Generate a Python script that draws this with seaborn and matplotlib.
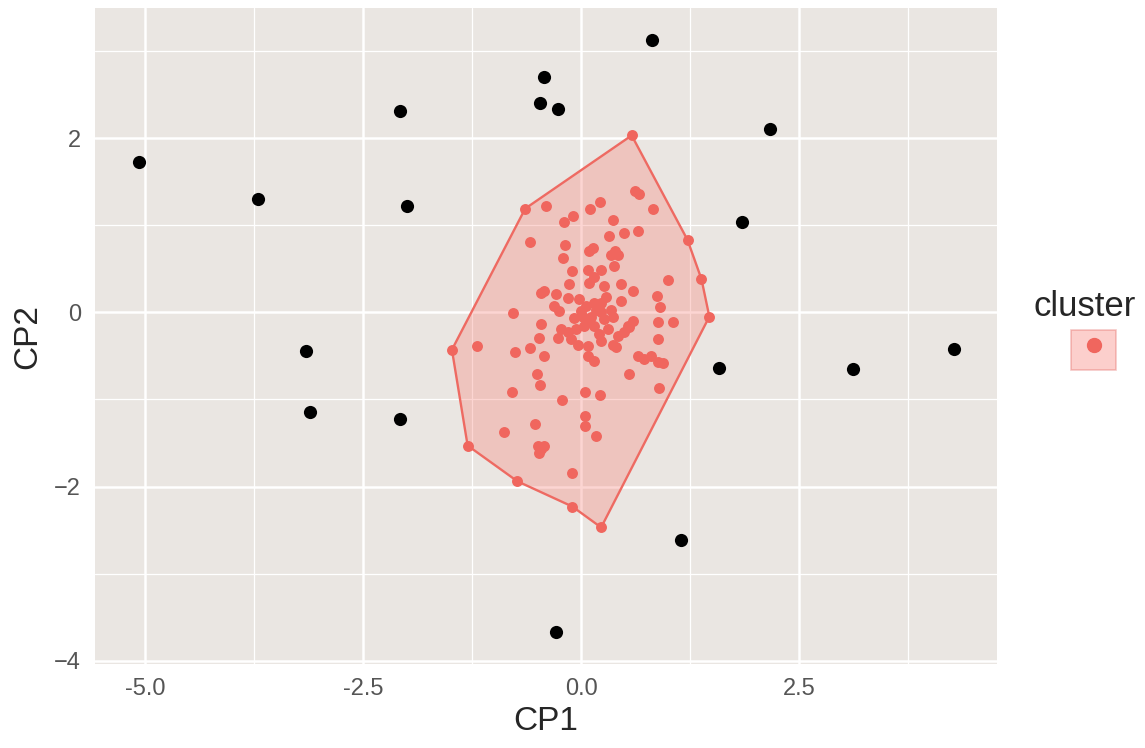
import matplotlib
matplotlib.use('Agg')
import matplotlib.pyplot as plt
import seaborn as sns
import numpy as np
import pandas as pd
from matplotlib.patches import Patch
from matplotlib.lines import Line2D
from matplotlib.legend_handler import HandlerTuple

# cluster 1 points (CP1, CP2)
cl_x = [0.58, -0.64, -1.48, -1.30, -0.73, -0.10, 0.23, 1.47, 1.38, 1.22,
        -0.40, -0.19, -0.09, 0.10, 0.22, 0.62, 0.66, 0.82, 0.37, -0.58,
        -0.18, 0.32, 0.49, 0.65, 0.14, 0.09, 0.34, 0.42, 0.39, -0.21,
        -0.10, 0.08, 0.15, 0.23, 0.38, 1.00, -0.42, -0.46, -0.14, 0.09,
        0.26, 0.46, 0.59, 0.87, -0.15, -0.29, -0.78, -0.31, -0.25, 0.91,
        0.46, 0.06, 0.15, 0.23, 0.29, 0.02, 0.11, 0.23, 0.26, -0.08,
        -0.23, -0.15, -0.26, 0.03, 0.15, 0.31, 0.42, 0.49, -0.11, -0.03,
        0.08, 0.23, 0.37, 0.54, 0.59, 0.55, 0.88, 1.05, 0.88, -0.46,
        -0.48, -1.19, -0.76, -0.59, -0.43, 0.40, 0.08, 0.15, 0.65, 0.72,
        0.80, 0.88, 0.94, 0.55, 0.89, -0.50, -0.47, -0.79, -0.22, 0.05,
        0.22, 0.05, 0.05, 0.17, -0.53, -0.88, -0.46, -0.49, -0.42, -0.48,
        -0.10, 0.00, 0.17, -0.06, 0.21, 0.09, -0.02, 0.34, 0.37]
cl_y = [2.03, 1.19, -0.43, -1.53, -1.94, -2.23, -2.47, -0.05, 0.38, 0.83,
        1.22, 1.04, 1.10, 1.18, 1.27, 1.39, 1.36, 1.19, 1.06, 0.81,
        0.77, 0.88, 0.91, 0.93, 0.74, 0.70, 0.66, 0.66, 0.70, 0.62,
        0.47, 0.48, 0.41, 0.49, 0.53, 0.37, 0.24, 0.22, 0.32, 0.34,
        0.30, 0.33, 0.24, 0.19, 0.16, 0.21, -0.01, 0.07, 0.01, 0.06,
        0.13, 0.07, 0.11, 0.11, 0.17, -0.05, -0.05, 0.00, -0.08, -0.07,
        -0.19, -0.23, -0.29, -0.16, -0.16, -0.19, -0.27, -0.23, -0.31, -0.37,
        -0.39, -0.33, -0.37, -0.16, -0.10, -0.17, -0.11, -0.11, -0.31, -0.13,
        -0.29, -0.39, -0.46, -0.41, -0.50, -0.40, -0.50, -0.56, -0.50, -0.54,
        -0.50, -0.57, -0.58, -0.71, -0.87, -0.71, -0.83, -0.91, -1.01, -0.91,
        -0.95, -1.19, -1.30, -1.42, -1.28, -1.37, -1.57, -1.54, -1.53, -1.62,
        -1.84, 0.01, 0.03, -0.19, -0.25, -0.10, 0.15, 0.03, -0.06]

# convex hull of cluster 1
hull_x = [0.58, 1.22, 1.38, 1.47, 0.23, -0.10, -0.73, -1.30, -1.48, -0.64]
hull_y = [2.03, 0.83, 0.38, -0.05, -2.47, -2.23, -1.94, -1.53, -0.43, 1.19]

# outliers (noise)
out_x = [-5.07, -3.70, -3.15, -3.11, -2.07, -1.99, -2.07, -0.43, -0.47, -0.26,
         0.81, 2.16, 1.85, 1.58, 3.12, 4.27, 1.15, -0.29]
out_y = [1.73, 1.30, -0.45, -1.14, 2.31, 1.22, -1.23, 2.70, 2.40, 2.33,
         3.13, 2.10, 1.04, -0.64, -0.65, -0.42, -2.61, -3.67]

x_ticks = [-5.0, -2.5, 0.0, 2.5]
y_ticks = [-4, -2, 0, 2]

red = '#F8766D'
sns.set_theme(style='darkgrid')
plt.rcParams['font.family'] = ['Liberation Sans', 'DejaVu Sans']

fig = plt.figure(figsize=(11.45, 7.48), dpi=100)
ax = fig.add_axes([0.083, 0.112, 0.788, 0.877])
ax.set_facecolor('#EAE6E2')

ax.fill(hull_x, hull_y, facecolor=red, alpha=0.3, edgecolor='none', zorder=2)
ax.fill(hull_x, hull_y, facecolor='none', edgecolor='#EE6A62', lw=1.7, zorder=3)

df_cl = pd.DataFrame({'CP1': cl_x, 'CP2': cl_y})
df_out = pd.DataFrame({'CP1': out_x, 'CP2': out_y})
sns.scatterplot(data=df_out, x='CP1', y='CP2', color='black', s=90, linewidth=0, ax=ax, zorder=4)
sns.scatterplot(data=df_cl, x='CP1', y='CP2', color='#F0665E', s=62, linewidth=0, ax=ax, zorder=4)

ax.set_xlim(-5.57, 4.77)
ax.set_ylim(-4.04, 3.49)
ax.set_xticks(x_ticks)
ax.set_xticklabels(['-5.0', '-2.5', '0.0', '2.5'])
ax.set_yticks(y_ticks)
ax.set_xticks([-3.75, -1.25, 1.25, 3.75], minor=True)
ax.set_yticks([-3, -1, 1, 3], minor=True)
ax.grid(which='major', color='white', lw=1.8)
ax.grid(which='minor', color='white', lw=0.9)
for s in ax.spines.values():
    s.set_visible(False)
ax.tick_params(which='major', length=5, width=1.3, color='#333333', labelsize=17,
               labelcolor='#555555', pad=5)
ax.tick_params(which='minor', length=0)
ax.set_xlabel('CP1', fontsize=24, labelpad=4)
ax.set_ylabel('CP2', fontsize=24, labelpad=8)

h = (Patch(facecolor=red, alpha=0.35, edgecolor='#E0605A', lw=1.2),
     Line2D([], [], marker='o', color='#F0665E', ls='none', markersize=10))
leg = ax.legend(handles=[h], labels=[''], handler_map={tuple: HandlerTuple(ndivide=1)},
                title='cluster', loc='upper left', bbox_to_anchor=(1.007, 0.616),
                frameon=False, handlelength=1.35, handleheight=1.5, fontsize=24,
                title_fontsize=25, markerfirst=False, handletextpad=0.55,
                labelspacing=0.2)
leg.set_alignment('center')

fig.savefig('out.png', dpi=100, facecolor='white')
